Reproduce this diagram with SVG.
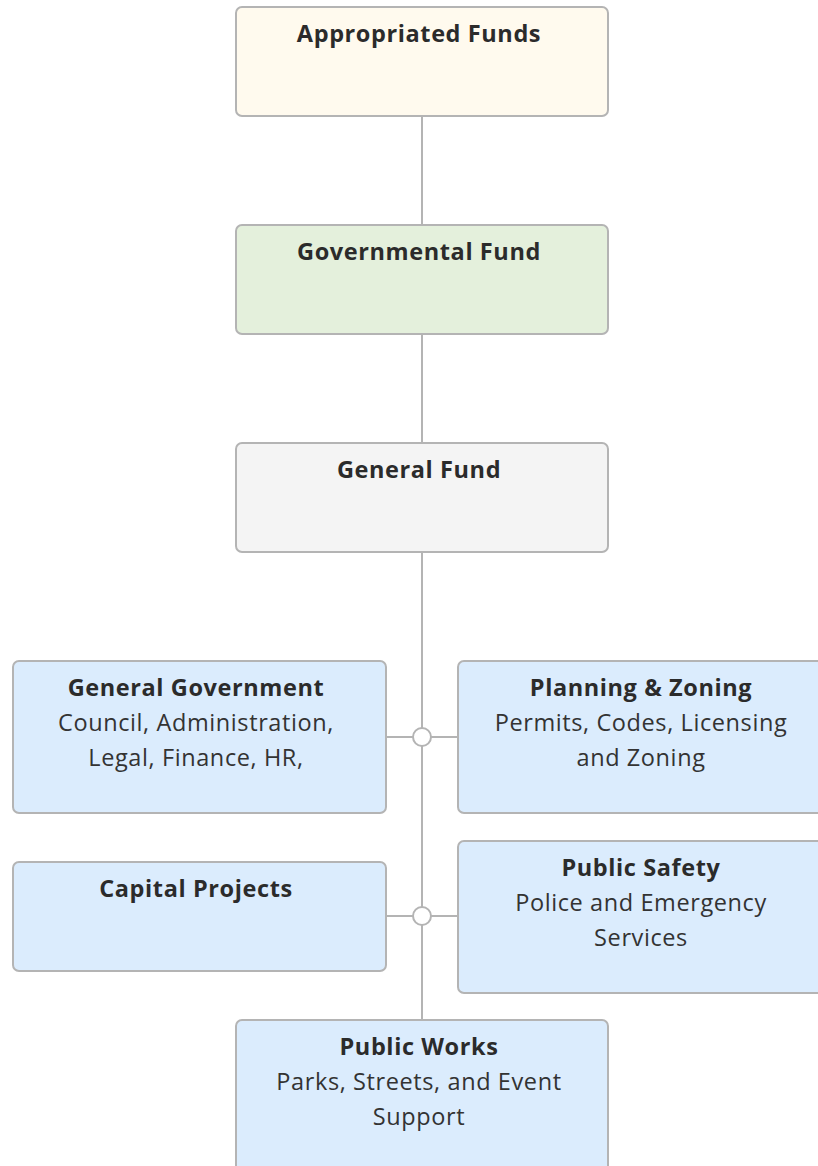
<svg xmlns="http://www.w3.org/2000/svg" width="818" height="1166" viewBox="0 0 818 1166">
<style>
.box{stroke:#b4b4b4;stroke-width:2}
.t{font-family:"Open Sans","Liberation Sans",sans-serif;font-size:23.5px;letter-spacing:0.6px;font-weight:700;fill:#2b2b2b;text-anchor:middle}
.b{font-family:"Open Sans","Liberation Sans",sans-serif;font-size:23.5px;letter-spacing:0.6px;font-weight:400;fill:#333333;text-anchor:middle}
.ln{stroke:#b4b4b4;stroke-width:2;fill:none}
.dot{stroke:#b4b4b4;stroke-width:2;fill:#ffffff}
</style>
<rect width="818" height="1166" fill="#ffffff"/>
<g id="connectors">
<line class="ln" x1="422" y1="116" x2="422" y2="225"/>
<line class="ln" x1="422" y1="334" x2="422" y2="443"/>
<line class="ln" x1="422" y1="552" x2="422" y2="1020"/>
<line class="ln" x1="386" y1="737" x2="458" y2="737"/>
<line class="ln" x1="386" y1="916" x2="458" y2="916"/>
<circle class="dot" cx="422" cy="737" r="9"/>
<circle class="dot" cx="422" cy="916" r="9"/>
</g>
<g id="appropriated-funds">
<rect class="box" x="236" y="7" width="372" height="109" rx="6" fill="#fffaee"/>
<text class="t" x="419" y="42">Appropriated Funds</text>
</g>
<g id="governmental-fund">
<rect class="box" x="236" y="225" width="372" height="109" rx="6" fill="#e4f0dc"/>
<text class="t" x="419" y="260">Governmental Fund</text>
</g>
<g id="general-fund">
<rect class="box" x="236" y="443" width="372" height="109" rx="6" fill="#f4f4f4"/>
<text class="t" x="419" y="478">General Fund</text>
</g>
<g id="general-government">
<rect class="box" x="13" y="661" width="373" height="152" rx="6" fill="#dbecfd"/>
<text class="t" x="196" y="696">General Government</text>
<text class="b" x="196" y="731">Council, Administration,</text>
<text class="b" x="196" y="766">Legal, Finance, HR,</text>
</g>
<g id="planning-zoning">
<rect class="box" x="458" y="661" width="372" height="152" rx="6" fill="#dbecfd"/>
<text class="t" x="641" y="696">Planning &amp; Zoning</text>
<text class="b" x="641" y="731">Permits, Codes, Licensing</text>
<text class="b" x="641" y="766">and Zoning</text>
</g>
<g id="capital-projects">
<rect class="box" x="13" y="862" width="373" height="109" rx="6" fill="#dbecfd"/>
<text class="t" x="196" y="897">Capital Projects</text>
</g>
<g id="public-safety">
<rect class="box" x="458" y="841" width="372" height="152" rx="6" fill="#dbecfd"/>
<text class="t" x="641" y="876">Public Safety</text>
<text class="b" x="641" y="911">Police and Emergency</text>
<text class="b" x="641" y="946">Services</text>
</g>
<g id="public-works">
<rect class="box" x="236" y="1020" width="372" height="160" rx="6" fill="#dbecfd"/>
<text class="t" x="419" y="1055">Public Works</text>
<text class="b" x="419" y="1090">Parks, Streets, and Event</text>
<text class="b" x="419" y="1125">Support</text>
</g>
</svg>
